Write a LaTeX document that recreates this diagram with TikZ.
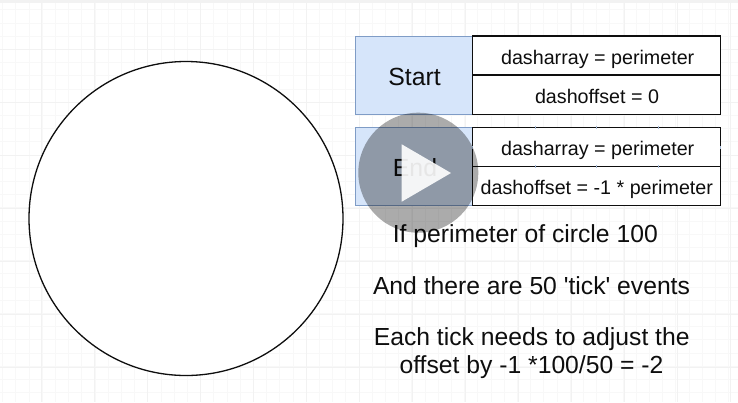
\documentclass[tikz,border=0pt]{standalone}
\usepackage{fontspec}
\setmainfont{Liberation Sans}
\newfontfamily\plainsans{Liberation Sans}
\definecolor{boxblue}{HTML}{D6E5FA}
\definecolor{boxedge}{HTML}{7F9CC6}
\definecolor{gridc}{HTML}{F8F8F8}
\definecolor{gridm}{HTML}{F2F2F2}
\definecolor{ink}{HTML}{0E0E0E}
\tikzset{
  px/.style={x=1pt,y=-1pt},
  bluebox/.style={draw=boxedge,fill=boxblue,line width=1pt},
  whitebox/.style={draw=ink,fill=white,line width=1.3pt},
  lbl/.style={text=ink,font=\plainsans\fontsize{19.7}{23}\selectfont,inner sep=0pt,anchor=base},
  lblbig/.style={text=ink,font=\plainsans\fontsize{24.8}{28}\selectfont,inner sep=0pt,anchor=base},
  captiontext/.style={text=ink,font=\plainsans\fontsize{24.7}{28}\selectfont,inner sep=0pt,anchor=base},
  handle/.style={draw=boxedge!70,line width=.8pt}
}
\begin{document}
\begin{tikzpicture}[px]
\useasboundingbox (0,0) rectangle (738,402);
\fill[white] (0,0) rectangle (738,402);
% grid
\foreach \i in {0,...,56} {\draw[gridc,line width=.7pt] ({2.5+13.2*\i},0) -- ({2.5+13.2*\i},402);}
\foreach \i in {0,...,30} {\draw[gridc,line width=.7pt] (0,{-3.5+13.2*\i}) -- (738,{-3.5+13.2*\i});}
\foreach \i in {0,...,13} {\draw[gridm,line width=.8pt] ({94.5+53*(\i-1)},0) -- ({94.5+53*(\i-1)},402);}
\foreach \i in {0,...,7} {\draw[gridm,line width=.8pt] (0,{49+53*(\i-1)+0}) -- (738,{49+53*(\i-1)});}
\fill[gridm] (0,0) rectangle (738,2.5);
% big circle
\node[circle,draw=ink,fill=white,line width=1.3pt,minimum size=314pt,inner sep=0pt] (ring) at (186,218.5) {};
% boxes
\draw[bluebox] (355.5,36) rectangle (472.5,114.5);
\node[lblbig] (start) at (414.5,85.5) {Start};
\draw[whitebox] (472.5,36) rectangle (720.7,75);
\node[lbl] (a1) at (597.7,64) {dasharray = perimeter};
\draw[whitebox] (472.5,75) rectangle (720.7,114.5);
\node[lbl] (a2) at (597,103) {dashoffset = 0};
\draw[bluebox] (355.5,127.5) rectangle (472.5,205.5);
\node[lblbig] (endl) at (415,176.7) {End};
\draw[whitebox] (472.5,127.5) rectangle (720.7,166.7);
\node[lbl] (b1) at (597.7,155) {dasharray = perimeter};
\draw[whitebox] (472.5,166.7) rectangle (720.7,205.5);
\node[lbl] (b2) at (596.8,194) {dashoffset = -1 * perimeter};
% selection handles
\foreach \x in {535,596.5,658} {
  \draw[handle] (\x,125.8) -- (\x,129);
  \draw[handle] (\x,165.2) -- (\x,168.2);
}
\foreach \x in {472.5,720.7} \draw[handle] (\x,146) -- (\x,149);
% captions
\node[captiontext] (c1) at (525.3,242) {If perimeter of circle 100};
\node[captiontext] (c2) at (531.5,294.5) {And there are 50 'tick' events};
\node[captiontext] (c3) at (531.7,345) {Each tick needs to adjust the};
\node[captiontext] (c4) at (531.5,373) {offset by -1 *100/50 = -2};
% play overlay
\fill[black,fill opacity=.33] (418.3,172.7) circle (60);
\fill[white,fill opacity=.9] (401.7,144.3) -- (401.7,201.7) -- (451,173) -- cycle;
\end{tikzpicture}
\end{document}
